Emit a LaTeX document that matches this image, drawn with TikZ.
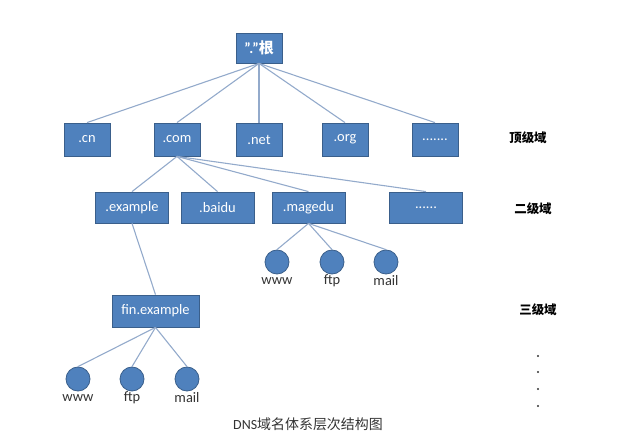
\documentclass[tikz,border=0pt]{standalone}
\usepackage{fontspec}
\setmainfont{Carlito}
\newfontfamily\cjk{Noto Sans CJK SC}
\definecolor{boxblue}{HTML}{4F81BD}
\definecolor{boxedge}{HTML}{3A5F8B}
\definecolor{connc}{HTML}{93AACB}
\definecolor{labc}{HTML}{333333}
\begin{document}
\begin{tikzpicture}[x=1bp,y=-1bp,
  dbox/.style={rectangle,fill=boxblue,draw=boxedge,line width=0.8bp,text=white,
    font=\fontsize{14.5}{16}\selectfont,inner sep=0pt},
  topbox/.style={dbox,minimum width=46bp,minimum height=33bp},
  secbox/.style={dbox,minimum width=73bp,minimum height=31bp},
  leaf/.style={circle,fill=boxblue,draw=boxedge,line width=0.8bp,minimum size=24bp,inner sep=0pt},
  leaflab/.style={text=labc,font=\fontsize{14.5}{16}\selectfont,inner sep=0pt},
  lvl/.style={text=black,font=\cjk\bfseries\fontsize{12.5}{15}\selectfont,inner sep=0pt},
  conn/.style={draw=connc,line width=1.1bp},
  vdot/.style={circle,fill=black!80,minimum size=2.2bp,inner sep=0pt}]
\useasboundingbox (0,0) rectangle (640,442);
% root
\node[dbox,minimum width=46bp,minimum height=30bp,font=\bfseries\fontsize{15}{16}\selectfont] (root) at (259,48) {"."{\cjk\bfseries 根}};
% top level
\node[topbox] (cn) at (87,139.5) {.cn};
\node[topbox] (com) at (177,139.5) {.com};
\node[topbox] (net) at (259,139.5) {.net};
\node[topbox] (org) at (345,139.5) {.org};
\node[topbox] (tdots) at (435,139.5) {.......};
% second level
\node[secbox] (example) at (132,207.5) {.example};
\node[secbox] (baidu) at (217.5,207.5) {.baidu};
\node[secbox] (magedu) at (308.5,207.5) {.magedu};
\node[secbox] (sdots) at (426,207.5) {......};
% third level
\node[dbox,minimum width=87bp,minimum height=32bp] (fin) at (155.5,311) {fin.example};
% leaves of magedu
\node[leaf] (mw) at (277,262) {};
\node[leaf] (mf) at (332,262) {};
\node[leaf] (mm) at (386,262) {};
\node[leaflab] (mwl) at (277,281) {www};
\node[leaflab] (mfl) at (332,281) {ftp};
\node[leaflab] (mml) at (386,281) {mail};
% leaves of fin
\node[leaf] (fw) at (78,379) {};
\node[leaf] (ff) at (132,379) {};
\node[leaf] (fm) at (187,379) {};
\node[leaflab] (fwl) at (78,398) {www};
\node[leaflab] (ffl) at (132,398) {ftp};
\node[leaflab] (fml) at (187,398) {mail};
% connectors
\foreach \c in {cn,com,net,org,tdots} \draw[conn] (root.south) -- (\c.north);
\foreach \c in {example,baidu,magedu,sdots} \draw[conn] (com.south) -- (\c.north);
\foreach \c in {mw,mf,mm} \draw[conn] (magedu.south) -- (\c.north);
\draw[conn] (example.south) -- (fin.north);
\foreach \c in {fw,ff,fm} \draw[conn] (fin.south) -- (\c.north);
% level labels
\node[lvl] (l1) at (528,138) {顶级域};
\node[lvl] (l2) at (533,209) {二级域};
\node[lvl] (l3) at (538,310) {三级域};
\node[vdot] (d1) at (538,356) {};
\node[vdot] (d2) at (538,372) {};
\node[vdot] (d3) at (538,389) {};
\node[vdot] (d4) at (538,406) {};
% caption
\node[text=labc,font=\fontsize{14}{16}\selectfont,inner sep=0pt] (cap) at (308,424) {DNS{\cjk 域名体系层次结构图}};
\end{tikzpicture}
\end{document}
